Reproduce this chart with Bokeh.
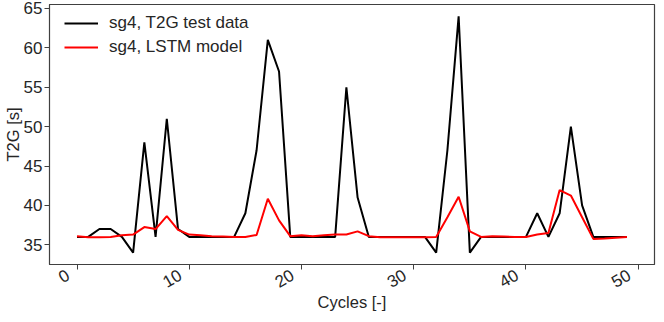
import math
from bokeh.plotting import figure
from bokeh.models import Range1d, FixedTicker, Legend, LegendItem, LinearAxis, Label
from bokeh.embed import file_html
from bokeh.resources import INLINE

cycles = list(range(50))
t2g_test = [36, 36, 37, 37, 36, 34, 48, 36, 51, 37,
            36, 36, 36, 36, 36, 39, 47, 61, 57, 36,
            36, 36, 36, 36, 55, 41, 36, 36, 36, 36,
            36, 36, 34, 47, 64, 34, 36, 36, 36, 36,
            36, 39, 36, 39, 50, 40, 36, 36, 36, 36]
lstm_model = [36.1, 35.95, 35.95, 36.0, 36.2, 36.3, 37.25, 37.0, 38.65, 36.9,
              36.3, 36.2, 36.1, 36.05, 36.0, 36.0, 36.25, 40.85, 38.1, 36.1,
              36.2, 36.1, 36.2, 36.3, 36.3, 36.7, 36.1, 35.95, 35.95, 35.95,
              35.95, 35.95, 36.0, 38.5, 41.1, 36.7, 36.0, 36.1, 36.05, 36.0,
              36.0, 36.3, 36.5, 41.95, 41.25, 38.5, 35.75, 35.8, 35.9, 36.0]
x_ticks = [0, 10, 20, 30, 40, 50]
y_ticks = [35, 40, 45, 50, 55, 60, 65]
x_label = "Cycles [-]"
y_label = "T2G [s]"

FONT = "Liberation Sans"
TXT = "#262626"
EDGE = "#404040"
X0, X1 = -2.45, 51.45
SHIFT = 0.8  # rotated labels sit left of their tick (right-aligned like the reference)

p = figure(width=656, height=314, output_backend="svg", toolbar_location=None,
           x_range=Range1d(X0, X1), y_range=Range1d(32.5, 65.5),
           min_border_left=2, min_border_right=2, min_border_top=4, min_border_bottom=40)
p.extra_x_ranges = {"lab": Range1d(X0 + SHIFT, X1 + SHIFT)}

l1 = p.line(cycles, t2g_test, line_color="black", line_width=2)
l2 = p.line(cycles, lstm_model, line_color="#ff0000", line_width=2)

p.xgrid.visible = False
p.ygrid.visible = False
p.outline_line_color = EDGE
p.outline_line_width = 1.2
p.background_fill_color = "white"
p.border_fill_color = "white"

lab_axis = LinearAxis(x_range_name="lab")
p.add_layout(lab_axis, "below")

for ax in (p.xaxis[0], p.yaxis[0], lab_axis):
    ax.axis_line_color = EDGE
    ax.major_tick_line_color = EDGE
    ax.minor_tick_line_color = None
    ax.major_tick_in = 0
    ax.major_tick_out = 5
    ax.major_label_text_font = FONT
    ax.major_label_text_font_size = "17px"
    ax.major_label_text_color = TXT
    ax.axis_label_text_font = FONT
    ax.axis_label_text_font_size = "16.5px"
    ax.axis_label_text_font_style = "normal"
    ax.axis_label_text_color = TXT

p.yaxis[0].ticker = FixedTicker(ticks=y_ticks)
p.yaxis[0].axis_label = y_label
p.yaxis[0].major_label_standoff = 2
p.yaxis[0].axis_label_standoff = -1

main_x = p.xaxis[0]
main_x.ticker = FixedTicker(ticks=x_ticks)
main_x.major_label_overrides = {t: "" for t in x_ticks}
main_x.major_label_standoff = 0

lab_axis.ticker = FixedTicker(ticks=x_ticks)
lab_axis.axis_line_color = None
lab_axis.major_tick_line_color = None
lab_axis.major_tick_out = 0
lab_axis.major_label_orientation = math.pi / 6
lab_axis.major_label_standoff = 4

p.add_layout(Label(x=(X0 + X1) / 2, y=4, y_units="screen", text=x_label,
                   text_align="center", text_baseline="bottom",
                   text_font=FONT, text_font_size="16.5px", text_color=TXT), "below")

legend = Legend(items=[LegendItem(label="sg4, T2G test data", renderers=[l1]),
                       LegendItem(label="sg4, LSTM model", renderers=[l2])],
                location=(15, 207), border_line_color=None, background_fill_alpha=0,
                label_text_font=FONT, label_text_font_size="17px", label_text_color=TXT,
                glyph_width=34, label_standoff=11, spacing=4, margin=0, padding=0)
p.add_layout(legend)

open("out.html", "w").write(file_html(p, INLINE))
